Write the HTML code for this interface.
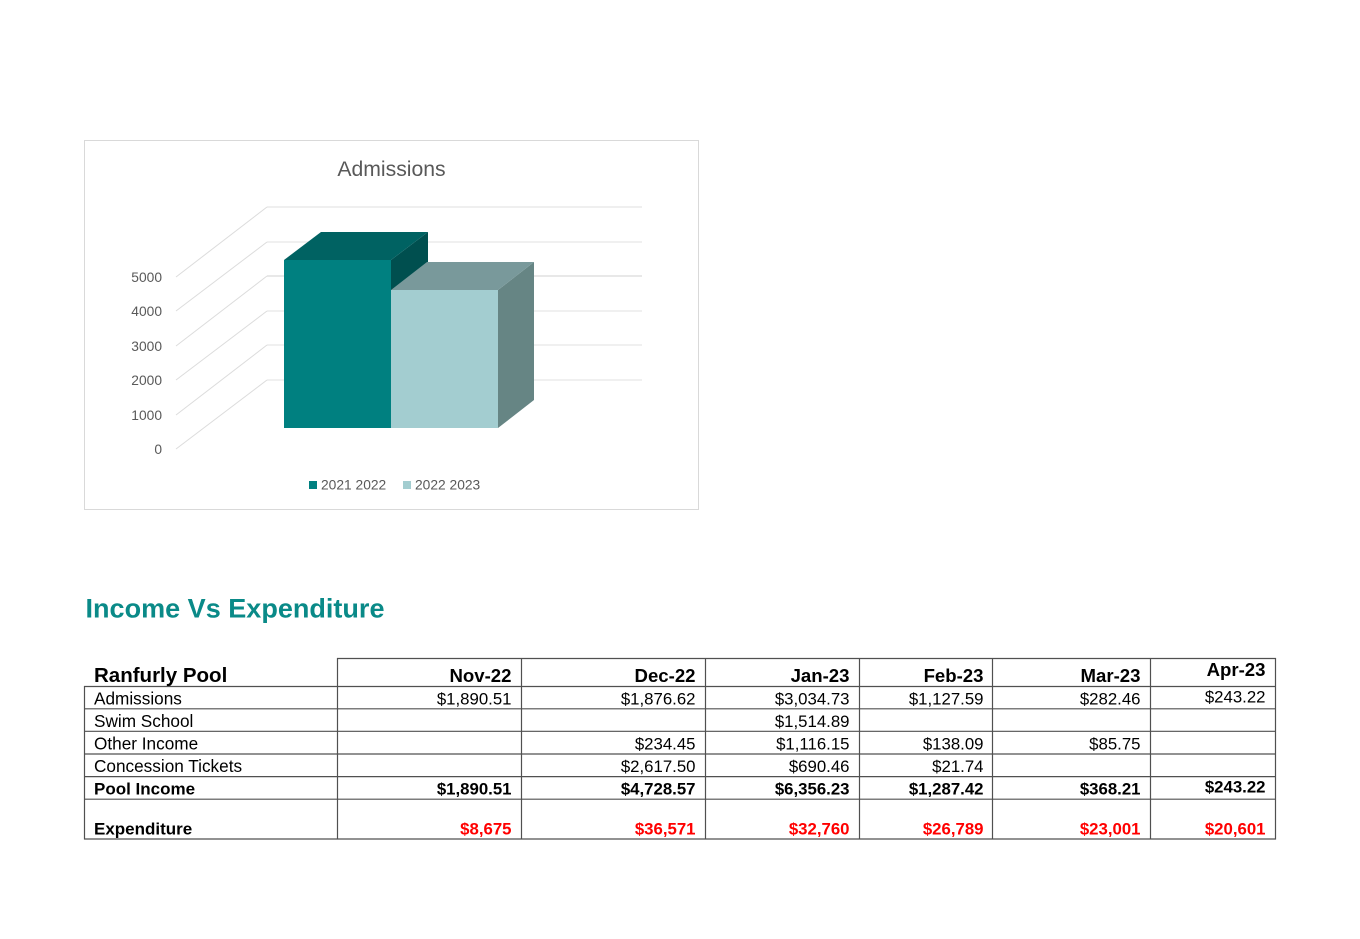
<!DOCTYPE html>
<html>
<head>
<meta charset="utf-8">
<style>
  html, body { margin:0; padding:0; background:#ffffff; }
  svg { display:block; }
  .t { font-family:"Liberation Sans", Arial, sans-serif; }
</style>
</head>
<body>
<svg width="1360" height="939" viewBox="0 0 1360 939" xmlns="http://www.w3.org/2000/svg">
  <rect x="0" y="0" width="1360" height="939" fill="#ffffff"/>

  <!-- Chart box -->
  <rect x="84.5" y="140.5" width="614" height="369" fill="#ffffff" stroke="#d9d9d9" stroke-width="1"/>
  <text class="t" x="391.5" y="176" font-size="21.2" fill="#595959" text-anchor="middle">Admissions</text>

  <!-- back wall gridlines -->
  <g stroke="#e6e6e6" stroke-width="1.2">
    <line x1="267" y1="207" x2="642" y2="207" stroke="#efefef" stroke-width="2"/>
    <line x1="267" y1="242" x2="642" y2="242"/>
    <line x1="267" y1="276" x2="642" y2="276" stroke="#e0e0e0" stroke-width="1.6"/>
    <line x1="267" y1="311" x2="642" y2="311"/>
    <line x1="267" y1="345" x2="642" y2="345"/>
    <line x1="267" y1="380" x2="642" y2="380"/>
  </g>
  <!-- side wall diagonals -->
  <g stroke="#dcdcdc" stroke-width="1">
    <line x1="176" y1="277" x2="267" y2="207"/>
    <line x1="176" y1="311" x2="267" y2="242"/>
    <line x1="176" y1="346" x2="267" y2="276"/>
    <line x1="176" y1="380" x2="267" y2="311"/>
    <line x1="176" y1="415" x2="267" y2="345"/>
    <line x1="176" y1="449" x2="267" y2="380"/>
  </g>
  <!-- axis labels -->
  <g class="t" font-size="13.8" fill="#595959" text-anchor="end">
    <text x="162" y="282">5000</text>
    <text x="162" y="316">4000</text>
    <text x="162" y="351">3000</text>
    <text x="162" y="385">2000</text>
    <text x="162" y="420">1000</text>
    <text x="162" y="454">0</text>
  </g>

  <!-- Bar 1 -->
  <polygon points="391,260 428,232 428,400 391,428" fill="#004f4f"/>
  <polygon points="284,260 321,232 428,232 391,260" fill="#006262"/>
  <rect x="284" y="260" width="107" height="168" fill="#008080"/>
  <!-- Bar 2 -->
  <polygon points="498,290 534,262 534,400 498,428" fill="#668584"/>
  <polygon points="391,290 427,262 534,262 498,290" fill="#79999b"/>
  <rect x="391" y="290" width="107" height="138" fill="#a3cdd0"/>

  <!-- legend -->
  <rect x="309" y="481" width="8" height="8" fill="#008080"/>
  <text class="t" x="321" y="489.5" font-size="13.8" fill="#595959">2021 2022</text>
  <rect x="403" y="481" width="8" height="8" fill="#a3cdd0"/>
  <text class="t" x="415" y="489.5" font-size="13.8" fill="#595959">2022 2023</text>

  <!-- Title -->
  <text class="t" x="85.5" y="617.5" font-size="26.5" font-weight="bold" fill="#0a8a88" textLength="299" lengthAdjust="spacingAndGlyphs">Income Vs Expenditure</text>

  <!-- Table lines -->
  <g stroke="#505050" stroke-width="1.2" fill="none">
    <line x1="337" y1="658.5" x2="1276" y2="658.5"/>
    <line x1="84" y1="686.5" x2="1276" y2="686.5"/>
    <line x1="84" y1="708.8" x2="1276" y2="708.8"/>
    <line x1="84" y1="731.3" x2="1276" y2="731.3"/>
    <line x1="84" y1="754" x2="1276" y2="754"/>
    <line x1="84" y1="776.6" x2="1276" y2="776.6"/>
    <line x1="84" y1="799.2" x2="1276" y2="799.2"/>
    <line x1="84" y1="839" x2="1276" y2="839"/>
    <line x1="84.5" y1="686" x2="84.5" y2="839.5"/>
    <line x1="337.5" y1="658" x2="337.5" y2="839.5"/>
    <line x1="521.5" y1="658" x2="521.5" y2="839.5"/>
    <line x1="705.5" y1="658" x2="705.5" y2="839.5"/>
    <line x1="859.5" y1="658" x2="859.5" y2="839.5"/>
    <line x1="992.5" y1="658" x2="992.5" y2="839.5"/>
    <line x1="1150.5" y1="658" x2="1150.5" y2="839.5"/>
    <line x1="1275.5" y1="658" x2="1275.5" y2="839.5"/>
  </g>

  <!-- Row labels -->
  <g class="t" fill="#000">
    <text x="94" y="682" font-size="20.5" font-weight="bold">Ranfurly Pool</text>
    <text x="94" y="704.3" font-size="17.2">Admissions</text>
    <text x="94" y="726.8" font-size="17.2">Swim School</text>
    <text x="94" y="749.5" font-size="17.2">Other Income</text>
    <text x="94" y="772" font-size="17.2">Concession Tickets</text>
    <text x="94" y="794.5" font-size="17" font-weight="bold">Pool Income</text>
    <text x="94" y="834.5" font-size="17" font-weight="bold">Expenditure</text>
  </g>

  <!-- Headers -->
  <g class="t" fill="#000" font-size="18.6" font-weight="bold" text-anchor="end">
    <text x="511.5" y="682">Nov-22</text>
    <text x="695.5" y="682">Dec-22</text>
    <text x="849.5" y="682">Jan-23</text>
    <text x="983.5" y="682">Feb-23</text>
    <text x="1140.5" y="682">Mar-23</text>
    <text x="1265.5" y="676">Apr-23</text>
  </g>

  <!-- Body values -->
  <g class="t" fill="#000" font-size="16.8" text-anchor="end">
    <text x="511.5" y="704.3">$1,890.51</text>
    <text x="695.5" y="704.3">$1,876.62</text>
    <text x="849.5" y="704.3">$3,034.73</text>
    <text x="983.5" y="704.3">$1,127.59</text>
    <text x="1140.5" y="704.3">$282.46</text>
    <text x="1265.5" y="702.3">$243.22</text>

    <text x="849.5" y="726.8">$1,514.89</text>

    <text x="695.5" y="749.5">$234.45</text>
    <text x="849.5" y="749.5">$1,116.15</text>
    <text x="983.5" y="749.5">$138.09</text>
    <text x="1140.5" y="749.5">$85.75</text>

    <text x="695.5" y="772">$2,617.50</text>
    <text x="849.5" y="772">$690.46</text>
    <text x="983.5" y="772">$21.74</text>
  </g>

  <g class="t" fill="#000" font-size="16.8" font-weight="bold" text-anchor="end">
    <text x="511.5" y="794.5">$1,890.51</text>
    <text x="695.5" y="794.5">$4,728.57</text>
    <text x="849.5" y="794.5">$6,356.23</text>
    <text x="983.5" y="794.5">$1,287.42</text>
    <text x="1140.5" y="794.5">$368.21</text>
    <text x="1265.5" y="792.7">$243.22</text>
  </g>

  <g class="t" fill="#ff0000" font-size="16.8" font-weight="bold" text-anchor="end">
    <text x="511.5" y="834.5">$8,675</text>
    <text x="695.5" y="834.5">$36,571</text>
    <text x="849.5" y="834.5">$32,760</text>
    <text x="983.5" y="834.5">$26,789</text>
    <text x="1140.5" y="834.5">$23,001</text>
    <text x="1265.5" y="834.5">$20,601</text>
  </g>
</svg>
</body>
</html>
